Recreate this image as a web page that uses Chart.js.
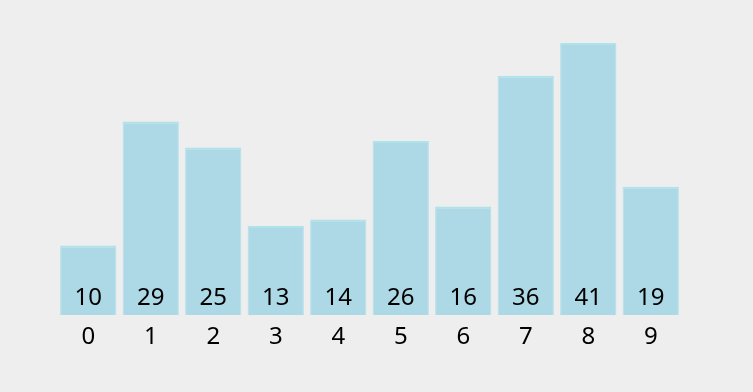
<!DOCTYPE html>
<html>
<head>
<meta charset="utf-8">
<script src="https://cdn.jsdelivr.net/npm/chart.js@4/dist/chart.umd.min.js"></script>
<style>
  html, body { margin: 0; padding: 0; background: #eeeeee; }
  #wrap { width: 753px; height: 392px; }
</style>
</head>
<body>
<div id="wrap"><canvas id="chart"></canvas></div>
<script>
const categories = ["0", "1", "2", "3", "4", "5", "6", "7", "8", "9"];
const values = [10, 29, 25, 13, 14, 26, 16, 36, 41, 19];

const FONT = "'Noto Sans', 'Open Sans', sans-serif";

// labels drawn inside each bar, near its base
const barLabels = {
  id: "barLabels",
  afterDatasetsDraw(chart) {
    const ctx = chart.ctx;
    const meta = chart.getDatasetMeta(0);
    ctx.save();
    ctx.font = "24px " + FONT;
    ctx.fillStyle = "#000000";
    ctx.textAlign = "center";
    ctx.textBaseline = "alphabetic";
    meta.data.forEach((bar, i) => {
      ctx.fillText(String(values[i]), bar.x, bar.base - 10);
    });
    ctx.restore();
  },
};

new Chart(document.getElementById("chart"), {
  type: "bar",
  data: {
    labels: categories,
    datasets: [
      {
        data: values,
        base: -0.65,
        backgroundColor: "#add8e6",
        borderColor: "#aee3ea",
        borderWidth: { top: 2, left: 1, right: 1, bottom: 0 },
        borderSkipped: false,
        barPercentage: 0.9,
        categoryPercentage: 1.0,
      },
    ],
  },
  options: {
    responsive: true,
    maintainAspectRatio: false,
    animation: false,
    layout: {
      padding: { left: 57, right: 71, top: 43, bottom: 32 },
    },
    plugins: {
      legend: { display: false },
      tooltip: { enabled: false },
    },
    scales: {
      x: {
        grid: { display: false, drawTicks: false },
        border: { display: false },
        ticks: {
          color: "#000000",
          padding: 8,
          font: { family: FONT, size: 24 },
        },
      },
      y: {
        display: false,
        min: -0.65,
        max: 41,
      },
    },
  },
  plugins: [barLabels],
});
</script>
</body>
</html>
